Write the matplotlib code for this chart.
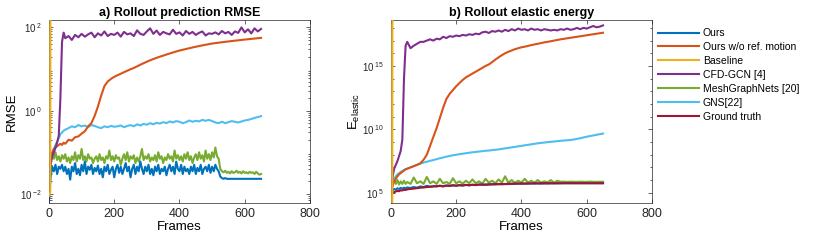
import numpy as np
import matplotlib
matplotlib.use("Agg")
from matplotlib import pyplot as plt
from matplotlib.ticker import LogLocator, FuncFormatter, NullFormatter

plt.rcParams['font.family'] = ['Liberation Sans', 'DejaVu Sans']
plt.rcParams['mathtext.fontset'] = 'custom'
plt.rcParams['mathtext.rm'] = 'Liberation Sans'
plt.rcParams['mathtext.it'] = 'Liberation Sans:italic'

# 数据
labels = ['Ours', 'Ours w/o ref. motion', 'Baseline', 'CFD-GCN [4]',
          'MeshGraphNets [20]', 'GNS[22]', 'Ground truth']
colors = ['#0072BD', '#D95319', '#EDB120', '#7E2F8E', '#77AC30', '#4DBEEE', '#A2142F']

frames = [0, 3, 6, 10, 15, 20, 25, 30, 35, 40, 45, 50,
          60, 70, 80, 90, 100, 110, 120, 130, 140, 150, 160, 170, 180, 190,
          200, 210, 220, 230, 240, 250, 260, 270, 280, 290,
          300, 310, 320, 330, 340, 350, 360, 370, 380, 390,
          400, 410, 420, 430, 440, 450, 460, 470, 480, 490,
          500, 510, 520, 530, 540, 550, 560, 570, 580, 590,
          600, 610, 620, 630, 640, 650]
frames_fine = list(range(0, 655, 5))
baseline_frames = [0, 4, 5]

# a) RMSE
rmse_cfd = [0.012, 0.03, 0.06, 0.08, 0.1, 0.13, 0.17, 0.25, 2.0, 45, 75, 55,
            62, 50, 66, 58, 70, 60, 68, 75, 58, 72, 64, 80, 62, 70,
            66, 75, 60, 78, 68, 72, 62, 85, 70, 66,
            80, 95, 70, 84, 66, 78, 72, 68, 88, 70,
            76, 64, 82, 70, 78, 66, 74, 80, 64, 72,
            70, 76, 68, 82, 72, 78, 66, 80, 74, 100,
            76, 90, 72, 95, 80, 92]
rmse_noref = [0.04, 0.06, 0.08, 0.1, 0.12, 0.13, 0.14, 0.15, 0.16, 0.15, 0.17, 0.16,
              0.2, 0.19, 0.23, 0.24, 0.28, 0.32, 0.42, 0.5, 0.75, 1.25, 2.3, 3.9, 5.0, 5.8,
              6.5, 7.1, 7.7, 8.4, 9.1, 9.9, 10.6, 11.6, 12.7, 13.8,
              15, 16.2, 17.4, 18.6, 19.8, 21, 22.3, 23.6, 25, 26.4,
              27.8, 29, 30.3, 31.6, 33, 34.3, 35.6, 37, 38.3, 39.6,
              41, 42, 43, 44, 45, 46, 47, 48, 49, 50,
              51, 52, 53, 54, 55, 56]
rmse_gns = [0.02, 0.04, 0.07, 0.09, 0.12, 0.15, 0.18, 0.22, 0.27, 0.3, 0.33, 0.35,
            0.38, 0.42, 0.4, 0.45, 0.42, 0.44, 0.4, 0.45, 0.43, 0.4, 0.38, 0.42, 0.4, 0.43,
            0.41, 0.42, 0.44, 0.4, 0.43, 0.45, 0.42, 0.47, 0.44, 0.48,
            0.46, 0.5, 0.47, 0.51, 0.49, 0.53, 0.5, 0.55, 0.52, 0.56,
            0.54, 0.5, 0.53, 0.58, 0.54, 0.57, 0.55, 0.6, 0.57, 0.6,
            0.56, 0.52, 0.5, 0.54, 0.5, 0.53, 0.56, 0.54, 0.52, 0.55,
            0.58, 0.6, 0.63, 0.67, 0.7, 0.74]
rmse_mgn = [0.02, 0.05, 0.09, 0.07, 0.1, 0.065, 0.08, 0.06, 0.085, 0.07,
            0.09, 0.06, 0.075, 0.055, 0.08, 0.065, 0.1, 0.06, 0.085, 0.07,
            0.12, 0.065, 0.08, 0.06, 0.09, 0.07, 0.075, 0.055, 0.07, 0.08,
            0.06, 0.09, 0.065, 0.075, 0.055, 0.08, 0.07, 0.11, 0.065, 0.08,
            0.06, 0.085, 0.07, 0.075, 0.05, 0.07, 0.09, 0.065, 0.1, 0.06,
            0.08, 0.07, 0.085, 0.055, 0.075, 0.06, 0.08, 0.12, 0.065, 0.08,
            0.07, 0.09, 0.06, 0.075, 0.065, 0.085, 0.06, 0.1, 0.07, 0.08,
            0.055, 0.075, 0.065, 0.09, 0.07, 0.08, 0.06, 0.11, 0.07, 0.085,
            0.065, 0.08, 0.06, 0.09, 0.07, 0.1, 0.065, 0.08, 0.055, 0.075,
            0.09, 0.065, 0.1, 0.07, 0.085, 0.06, 0.11, 0.07, 0.09, 0.065,
            0.1, 0.075, 0.13, 0.08, 0.07, 0.04, 0.035, 0.033, 0.036, 0.032,
            0.034, 0.031, 0.035, 0.032, 0.033, 0.036, 0.032, 0.034, 0.031, 0.035,
            0.032, 0.033, 0.031, 0.034, 0.032, 0.033, 0.03, 0.034, 0.031, 0.029,
            0.03]
rmse_ours = [0.007, 0.025, 0.045, 0.035, 0.05, 0.03, 0.045, 0.04, 0.05, 0.035,
             0.045, 0.03, 0.04, 0.022, 0.045, 0.035, 0.055, 0.03, 0.04, 0.028,
             0.05, 0.035, 0.06, 0.03, 0.045, 0.038, 0.05, 0.03, 0.042, 0.035,
             0.048, 0.03, 0.04, 0.025, 0.045, 0.035, 0.05, 0.03, 0.038, 0.045,
             0.025, 0.04, 0.05, 0.032, 0.045, 0.03, 0.04, 0.055, 0.035, 0.045,
             0.025, 0.04, 0.05, 0.03, 0.045, 0.035, 0.06, 0.04, 0.03, 0.045,
             0.035, 0.05, 0.03, 0.04, 0.028, 0.045, 0.035, 0.05, 0.03, 0.04,
             0.035, 0.045, 0.028, 0.04, 0.05, 0.035, 0.045, 0.03, 0.06, 0.04,
             0.035, 0.05, 0.03, 0.045, 0.035, 0.04, 0.03, 0.045, 0.035, 0.05,
             0.03, 0.042, 0.035, 0.05, 0.03, 0.04, 0.045, 0.035, 0.05, 0.032,
             0.045, 0.035, 0.05, 0.04, 0.035, 0.026, 0.024, 0.023, 0.024, 0.023,
             0.023, 0.023, 0.023, 0.023, 0.023, 0.023, 0.023, 0.023, 0.023, 0.023,
             0.023, 0.023, 0.023, 0.023, 0.023, 0.023, 0.023, 0.023, 0.023, 0.023,
             0.023]
rmse_baseline = [0.009, 0.011, 1e8]

# b) elastic energy, log10 values
e_cfd = [5.0, 5.8, 6.4, 6.9, 7.2, 7.5, 7.9, 8.3, 9.2, 14.0, 16.6, 16.9,
         16.4, 16.6, 16.75, 16.9, 16.9, 17.0, 17.1, 17.0, 17.15, 17.1, 17.3, 17.2, 17.35, 17.3,
         17.4, 17.35, 17.45, 17.4, 17.5, 17.45, 17.55, 17.5, 17.65, 17.7,
         17.6, 17.75, 17.7, 17.8, 17.7, 17.85, 17.75, 17.9, 17.8, 17.95,
         17.85, 17.9, 17.8, 17.95, 17.85, 17.9, 17.8, 17.9, 17.85, 17.8,
         17.85, 17.8, 17.9, 17.85, 17.95, 17.85, 17.9, 18.0, 17.9, 18.0,
         17.95, 18.05, 18.15, 18.05, 18.1, 18.2]
e_noref = [5.0, 5.3, 5.6, 5.9, 6.1, 6.3, 6.45, 6.55, 6.65, 6.75, 6.85, 6.9,
           7.0, 7.1, 7.2, 7.32, 7.6, 8.0, 8.7, 9.4, 10.1, 10.9, 11.7, 12.4, 12.8, 13.1,
           13.4, 13.65, 13.9, 14.1, 14.25, 14.4, 14.55, 14.7, 14.85, 15.0,
           15.12, 15.3, 15.5, 15.68, 15.85, 16.0, 16.12, 16.22, 16.32, 16.4,
           16.47, 16.52, 16.58, 16.64, 16.7, 16.75, 16.8, 16.86, 16.9, 16.95,
           17.0, 17.05, 17.1, 17.14, 17.18, 17.22, 17.26, 17.3, 17.34, 17.38,
           17.42, 17.46, 17.5, 17.54, 17.58, 17.62]
e_gns = [5.0, 5.6, 5.9, 6.1, 6.3, 6.45, 6.55, 6.65, 6.72, 6.8, 6.85, 6.9,
         7.0, 7.1, 7.2, 7.3, 7.38, 7.45, 7.52, 7.58, 7.65, 7.72, 7.78, 7.85, 7.9, 7.96,
         8.0, 8.04, 8.08, 8.12, 8.16, 8.19, 8.22, 8.25, 8.28, 8.31,
         8.33, 8.36, 8.39, 8.42, 8.46, 8.5, 8.54, 8.58, 8.62, 8.66,
         8.7, 8.74, 8.78, 8.82, 8.86, 8.9, 8.93, 8.96, 8.99, 9.02,
         9.04, 9.07, 9.1, 9.12, 9.14, 9.16, 9.2, 9.25, 9.3, 9.36,
         9.42, 9.47, 9.52, 9.57, 9.62, 9.67]
e_mgn = [5.0, 5.5, 5.9, 6.1, 5.7, 6.0, 5.65, 5.9, 5.7, 5.95, 5.7, 5.85,
         5.7, 6.2, 5.75, 5.9, 5.7, 6.25, 5.75, 5.9, 5.7, 6.1, 5.75, 5.85, 5.7, 6.15,
         5.75, 5.9, 5.72, 5.95, 5.75, 6.05, 5.75, 5.9, 5.72, 6.1,
         5.8, 5.95, 5.75, 6.05, 5.8, 6.3, 5.8, 6.0, 5.78, 5.95,
         5.8, 6.1, 5.8, 5.95, 5.8, 6.0, 5.8, 5.9, 5.82, 6.0,
         5.8, 5.95, 5.87, 5.88, 5.86, 5.88, 5.87, 5.86, 5.88, 5.87,
         5.86, 5.88, 5.87, 5.86, 5.87, 5.87]
e_ours = [4.9, 5.1, 5.2, 5.3, 5.25, 5.35, 5.3, 5.38, 5.32, 5.4, 5.35, 5.42,
          5.38, 5.45, 5.4, 5.5, 5.45, 5.55, 5.48, 5.52, 5.5, 5.56, 5.52, 5.58, 5.54, 5.6,
          5.55, 5.6, 5.57, 5.62, 5.58, 5.63, 5.6, 5.65, 5.62, 5.66,
          5.63, 5.68, 5.65, 5.7, 5.66, 5.7, 5.68, 5.72, 5.69, 5.74,
          5.7, 5.73, 5.71, 5.74, 5.72, 5.75, 5.72, 5.75, 5.73, 5.76,
          5.74, 5.76, 5.75, 5.76, 5.76, 5.76, 5.76, 5.76, 5.76, 5.76,
          5.76, 5.76, 5.76, 5.76, 5.76, 5.76]
e_gt = [4.85, 4.95, 5.0, 5.05, 5.1, 5.15, 5.12, 5.2, 5.18, 5.24, 5.22, 5.27,
        5.3, 5.33, 5.36, 5.4, 5.42, 5.45, 5.47, 5.5, 5.52, 5.54, 5.5, 5.56, 5.54, 5.58,
        5.56, 5.6, 5.58, 5.62, 5.6, 5.63, 5.61, 5.64, 5.66, 5.62,
        5.68, 5.66, 5.69, 5.67, 5.7, 5.68, 5.72, 5.7, 5.73, 5.71,
        5.74, 5.72, 5.74, 5.73, 5.75, 5.73, 5.75, 5.74, 5.75, 5.74,
        5.75, 5.74, 5.75, 5.75, 5.75, 5.75, 5.75, 5.75, 5.75, 5.75,
        5.75, 5.75, 5.75, 5.75, 5.75, 5.75]
e_baseline = [3.0, 3.0, 30.0]

fig = plt.figure(figsize=(8.3, 2.4), dpi=100)
ax1 = fig.add_axes([0.059, 0.154, 0.3145, 0.763])
ax2 = fig.add_axes([0.471, 0.154, 0.3145, 0.763])

lw = 1.5
# 绘制顺序：先画噪声曲线，再画其它
ax1.plot(frames_fine, rmse_mgn, c=colors[4], lw=lw)
ax1.plot(frames_fine, rmse_ours, c=colors[0], lw=lw)
ax1.plot(frames, rmse_gns, c=colors[5], lw=lw)
ax1.plot(frames, rmse_noref, c=colors[1], lw=lw)
ax1.plot(frames, rmse_cfd, c=colors[3], lw=lw)
ax1.plot(baseline_frames, rmse_baseline, c=colors[2], lw=lw, zorder=3)

b_series = [e_ours, e_noref, e_baseline, e_cfd, e_mgn, e_gns, e_gt]
b_frames = [frames, frames, baseline_frames, frames, frames, frames, frames]
handles = []
for i in [4, 0, 5, 1, 3, 6, 2]:
    ax2.plot(b_frames[i], 10.0 ** np.array(b_series[i]), c=colors[i], lw=lw,
             zorder=3 if i == 2 else 2)
for i in range(7):
    h, = ax2.plot([], [], c=colors[i], lw=lw, label=labels[i])
    handles.append(h)

ax1.set_yscale('log')
ax1.set_ylim(10 ** -2.22, 10 ** 2.18)
ax1.set_yticks([1e-2, 1e0, 1e2])
ax1.yaxis.set_minor_locator(LogLocator(base=10, subs=np.arange(2, 10)))
ax1.set_title('a) Rollout prediction RMSE', fontsize=9, fontweight='bold', pad=3)
ax1.set_ylabel('RMSE', fontsize=9.5)
ax1.yaxis.set_label_coords(-0.12, 0.5)

ax2.set_yscale('log')
ax2.set_ylim(10 ** 4.19, 10 ** 18.63)
ax2.set_yticks([1e5, 1e10, 1e15])
ax2.yaxis.set_minor_locator(LogLocator(base=10, subs=(1.0,), numticks=30))
ax2.set_title('b) Rollout elastic energy', fontsize=9, fontweight='bold', pad=3)
ax2.set_ylabel(r'E$_{\mathrm{elastic}}$', fontsize=9.5)
ax2.yaxis.set_label_coords(-0.11, 0.5)

fmt = FuncFormatter(lambda v, p: r'10$^{\:%d}$' % int(round(np.log10(v))))
for ax in (ax1, ax2):
    ax.set_xlim(0, 800)
    ax.set_xticks([0, 200, 400, 600, 800])
    ax.yaxis.set_major_formatter(fmt)
    ax.yaxis.set_minor_formatter(NullFormatter())
    ax.set_xlabel('Frames', fontsize=9.5, labelpad=1)
    ax.tick_params(axis='both', which='both', direction='in', top=True, right=True,
                   colors='#262626', width=0.5)
    ax.tick_params(axis='x', labelsize=9)
    ax.tick_params(axis='y', labelsize=7, pad=5)
    ax.tick_params(which='major', length=3)
    ax.tick_params(which='minor', length=1.8)
    for s in ax.spines.values():
        s.set_color('#262626')
        s.set_linewidth(0.5)

fig.legend(handles=handles, loc='upper left', bbox_to_anchor=(0.788, 0.9),
           frameon=False, fontsize=7.5, handlelength=3.9, handletextpad=0.4,
           labelspacing=0.38, borderaxespad=0)

fig.savefig('out.png', dpi=100)
